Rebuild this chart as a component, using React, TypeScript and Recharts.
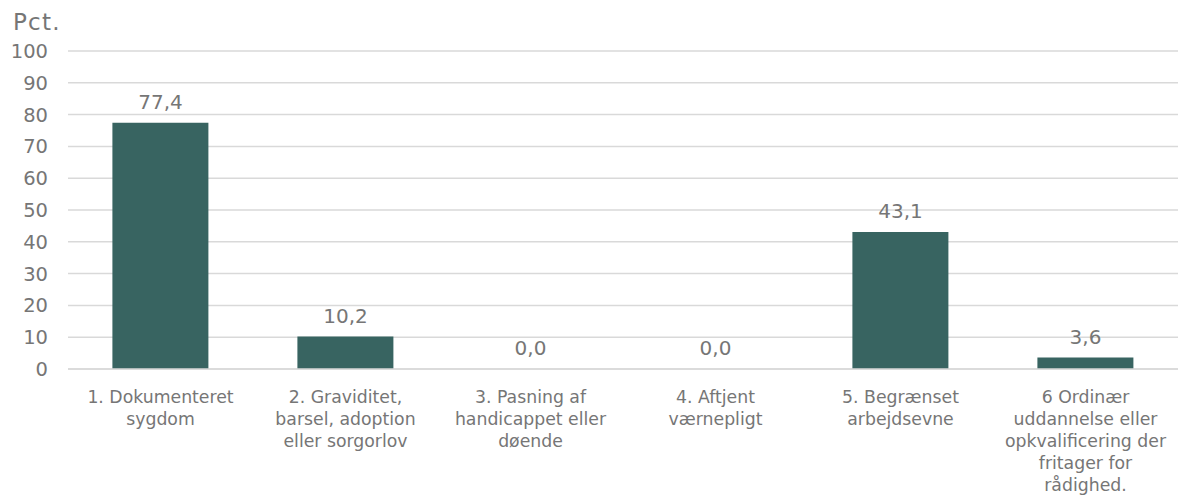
import { ComposedChart, Bar, Line, XAxis, YAxis, CartesianGrid, LabelList } from "recharts"

const categories = [
  "1. Dokumenteret\nsygdom",
  "2. Graviditet,\nbarsel, adoption\neller sorgorlov",
  "3. Pasning af\nhandicappet eller\ndøende",
  "4. Aftjent\nværnepligt",
  "5. Begrænset\narbejdsevne",
  "6 Ordinær\nuddannelse eller\nopkvalificering der\nfritager for\nrådighed.",
]
const values = [77.4, 10.2, 0.0, 0.0, 43.1, 3.6]
const yTicks = [0, 10, 20, 30, 40, 50, 60, 70, 80, 90, 100]

const data = categories.map((name, i) => ({ name, value: values[i] }))

const FONT = "'DejaVu Sans', sans-serif"
const GRAY = "#767676"

function CategoryTick(props: any) {
  const { x, y, payload } = props
  const lines = String(payload.value).split("\n")
  return (
    <text x={x} y={y} textAnchor="middle" fill={GRAY} fontSize={17.3} fontFamily={FONT}>
      {lines.map((line, i) => (
        <tspan key={i} x={x} dy={i === 0 ? 26 : 22}>
          {line}
        </tspan>
      ))}
    </text>
  )
}

export default function App() {
  return (
    <div style={{ position: "absolute", left: 0, top: 0, width: 1178, height: 504, background: "#fff" }}>
      <div
        style={{
          position: "absolute",
          left: 13,
          top: 11,
          fontFamily: FONT,
          fontSize: 23,
          letterSpacing: 1.2,
          lineHeight: 1,
          color: GRAY,
        }}
      >
        Pct.
      </div>
      <ComposedChart
        width={1178}
        height={504}
        data={data}
        margin={{ top: 51, right: 0, bottom: 0, left: 0 }}
        barCategoryGap="24%"
      >
        <CartesianGrid vertical={false} stroke="#d9d9d9" strokeWidth={1.5} />
        <XAxis
          dataKey="name"
          height={135}
          interval={0}
          axisLine={{ stroke: "#d9d9d9", strokeWidth: 1.5 }}
          tickLine={false}
          tick={<CategoryTick />}
        />
        <YAxis
          domain={[0, 100]}
          ticks={yTicks}
          width={68}
          axisLine={false}
          tickLine={false}
          tickMargin={14}
          tick={{ fill: GRAY, fontSize: 19.5, fontFamily: FONT }}
        />
        <Bar dataKey="value" fill="#386461" isAnimationActive={false} />
        <Line
          dataKey="value"
          stroke="none"
          dot={false}
          activeDot={false}
          isAnimationActive={false}
        >
          <LabelList
            dataKey="value"
            position="top"
            offset={14}
            fill={GRAY}
            fontSize={20}
            fontFamily={FONT}
            formatter={(v: any) => Number(v).toFixed(1).replace(".", ",")}
          />
        </Line>
      </ComposedChart>
    </div>
  )
}
